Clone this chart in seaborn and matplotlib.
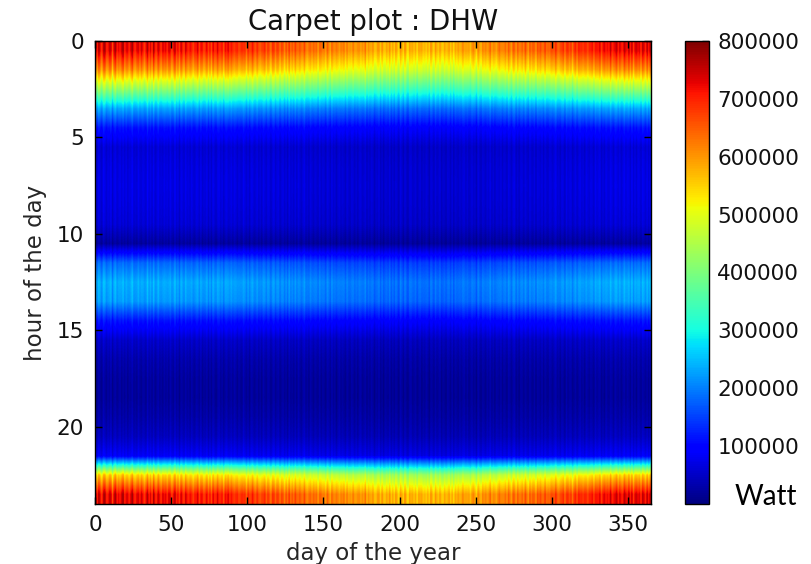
import numpy as np
import pandas as pd
import matplotlib
matplotlib.use("Agg")
import matplotlib.pyplot as plt
import seaborn as sns

# ---- data ----
hours = list(range(24))
# hot-water demand per hour of the day (W), winter level
hourly_profile = [720000, 600000, 420000, 230000, 110000, 58000, 65000, 68000,
                  65000, 58000, 20000, 180000, 235000, 220000, 112000, 50000,
                  30000, 20000, 18000, 27000, 42000, 82000, 540000, 720000]

# relative level of each day of the year
daily_factor = [
    1.04, 0.97, 1.06, 1.01, 0.95, 1.03, 1.07, 0.99, 0.96, 1.05, 1.02, 0.94, 1.03, 1.06, 0.98,
    1.01, 0.96, 1.05, 1.08, 0.97, 1.00, 1.04, 0.95, 1.02, 1.06, 0.99, 0.96, 1.03, 1.01, 0.97,
    1.05, 0.98, 0.94, 1.02, 1.04, 0.97, 1.01, 0.95, 1.06, 0.99, 0.96, 1.03, 1.00, 0.94, 1.04,
    0.98, 1.02, 0.95, 1.05, 0.99, 0.93, 1.01, 1.04, 0.97, 1.00, 0.96, 1.03, 0.98, 0.94, 1.02,
    0.99, 0.95, 1.02, 0.96, 0.93, 1.00, 0.97, 1.03, 0.94, 0.98, 1.01, 0.92, 0.97, 1.00, 0.95,
    0.99, 0.93, 1.01, 0.96, 0.98, 1.02, 0.94, 0.97, 0.99, 0.92, 1.00, 0.96, 1.03, 0.95, 0.98,
    0.97, 0.92, 0.96, 0.99, 0.91, 0.95, 0.98, 0.93, 0.96, 0.90, 0.97, 0.95, 0.92, 0.99, 0.94,
    0.91, 0.96, 0.93, 0.89, 0.95, 0.92, 0.97, 0.90, 0.94, 0.91, 0.88, 0.95, 0.93, 0.90, 0.94,
    0.92, 0.88, 0.93, 0.90, 0.86, 0.92, 0.89, 0.94, 0.87, 0.91, 0.88, 0.93, 0.90, 0.86, 0.92,
    0.89, 0.86, 0.91, 0.87, 0.84, 0.90, 0.88, 0.85, 0.91, 0.86, 0.89, 0.83, 0.88, 0.90, 0.85,
    0.87, 0.84, 0.89, 0.85, 0.82, 0.88, 0.86, 0.83, 0.89, 0.85, 0.81, 0.87, 0.84, 0.88, 0.83,
    0.86, 0.82, 0.85, 0.80, 0.87, 0.83, 0.81, 0.86, 0.84, 0.79, 0.85, 0.82, 0.87, 0.80, 0.83,
    0.82, 0.79, 0.84, 0.80, 0.77, 0.83, 0.81, 0.78, 0.84, 0.80, 0.76, 0.82, 0.79, 0.83, 0.78,
    0.81, 0.77, 0.83, 0.79, 0.76, 0.82, 0.80, 0.78, 0.84, 0.79, 0.75, 0.81, 0.78, 0.82, 0.77,
    0.80, 0.76, 0.82, 0.79, 0.83, 0.77, 0.80, 0.75, 0.81, 0.78, 0.84, 0.79, 0.76, 0.82, 0.80,
    0.77, 0.81, 0.79, 0.75, 0.82, 0.80, 0.78, 0.83, 0.77, 0.80, 0.76, 0.81, 0.79, 0.84, 0.78,
    0.81, 0.85, 0.79, 0.83, 0.80, 0.84, 0.78, 0.82, 0.86, 0.81, 0.79, 0.84, 0.82, 0.80, 0.85,
    0.83, 0.87, 0.81, 0.85, 0.88, 0.82, 0.84, 0.86, 0.80, 0.85, 0.89, 0.83, 0.86, 0.84, 0.88,
    0.85, 0.89, 0.86, 0.83, 0.90, 0.87, 0.84, 0.91, 0.88, 0.85, 0.89, 0.86, 0.92, 0.87, 0.84,
    0.90, 0.87, 0.92, 0.88, 0.85, 0.91, 0.89, 0.93, 0.86, 0.90, 0.94, 0.88, 0.91, 0.87, 0.92,
    0.93, 0.89, 0.95, 0.91, 0.88, 0.94, 0.92, 0.96, 0.90, 0.93, 0.97, 0.91, 0.94, 0.89, 0.95,
    0.96, 0.92, 0.98, 0.94, 0.97, 0.93, 0.99, 0.95, 0.92, 0.98, 0.96, 1.00, 0.94, 0.97, 0.99,
    0.97, 1.01, 0.95, 0.99, 1.03, 0.96, 1.00, 0.98, 1.04, 0.95, 1.01, 0.99, 1.05, 0.97, 1.02,
    1.00, 0.96, 1.04, 1.02, 0.97, 1.06, 0.99, 1.03, 0.95, 1.01, 1.05, 0.98, 1.02, 0.96, 1.04,
    1.01, 0.97, 1.05, 0.99, 1.03,
]

# extra base-load of each day (kW), gives the vertical streaks in the low hours
daily_offset_kw = [
    8, -5, 12, 0, -9, 15, 3, -7, 10, -3, 18, -10, 5, 9, -6,
    2, 14, -8, 6, -4, 11, -12, 7, 1, 16, -6, 4, -9, 13, 0,
    -7, 10, 5, -11, 17, -2, 8, -5, 12, -9, 3, 15, -4, 6, -8,
    11, -3, 9, -10, 14, 2, -6, 18, -1, 7, -12, 10, 4, -5, 13,
    -2, 8, -9, 15, 1, -7, 11, 5, -4, 16, -10, 6, 0, 12, -8,
    9, -5, 14, 3, -11, 7, 17, -3, 10, -8, 5, 13, -6, 2, 11,
    -4, 15, 6, -9, 12, 0, -7, 18, 4, -2, 9, -12, 14, 7, -5,
    3, 12, -6, 10, -10, 16, 1, -4, 13, 8, -8, 5, 17, -3, 6,
    11, -7, 4, 14, -2, 9, -11, 15, 0, 7, -5, 12, -9, 18, 2,
    -6, 10, 16, -3, 8, -10, 13, 5, -7, 11, 1, -4, 15, -8, 9,
    4, -9, 12, 7, -5, 17, -1, 10, -12, 6, 14, -3, 8, 0, -7,
    13, 2, -8, 15, 5, -6, 11, -10, 9, 16, -4, 3, 12, -7, 7,
    -3, 14, 6, -9, 10, 1, 18, -5, 8, -11, 12, 4, -2, 15, -6,
    9, -4, 11, 3, -10, 16, 6, -7, 13, 0, -8, 10, 17, -3, 5,
    12, -6, 2, 14, -9, 8, -1, 15, 4, -12, 11, 7, -5, 13, -2,
    6, 16, -7, 9, 1, -10, 13, 5, -4, 17, -8, 10, 3, -6, 12,
    -1, 8, 15, -5, 11, -9, 4, 14, -3, 7, -11, 18, 2, -7, 10,
    5, -8, 13, 0, 16, -4, 9, -10, 12, 6, -2, 15, -6, 11, 3,
    -9, 14, 7, -3, 10, 17, -7, 4, -12, 13, 8, -5, 11, 1, -4,
    15, 2, -6, 12, -10, 9, 5, -3, 16, -8, 11, 0, -7, 14, 6,
    -5, 10, 18, -2, 7, -9, 13, 3, -11, 15, -4, 8, 12, -6, 1,
    11, -7, 4, 16, -3, 9, -12, 14, 6, -5, 10, 2, -8, 17, -1,
    8, 13, -6, 5, -10, 15, 0, -4, 12, 7, -9, 16, 3, -2, 10,
    -8, 6, 14, -5, 11, 2, -7, 17, -3, 9, -11, 13, 4, -6, 12,
    5, -3, 10, -7, 14,
]
days = list(range(len(daily_factor)))

x_ticks = [0, 50, 100, 150, 200, 250, 300, 350]
y_ticks = [0, 5, 10, 15, 20]
cbar_ticks = [100000, 200000, 300000, 400000, 500000, 600000, 700000, 800000]
vmin, vmax = 0, 800000

values = (np.outer(hourly_profile, daily_factor)
          + np.asarray(daily_offset_kw, dtype=float)[None, :] * 1000.0)
carpet = pd.DataFrame(values, index=hours, columns=days)
n_hours, n_days = carpet.shape

# ---- style ----
sns.set_style("white")
plt.rcParams["font.family"] = ["DejaVu Sans"]
plt.rcParams["text.color"] = "#111111"

fig = plt.figure(figsize=(8.12, 5.64), dpi=100)
W, H = 812, 564
ax = fig.add_axes([95 / W, 60 / H, 556 / W, 463 / H])
cax = fig.add_axes([685 / W, 60 / H, 24 / W, 463 / H])

sns.heatmap(carpet, ax=ax, cbar_ax=cax, cmap="jet", vmin=vmin, vmax=vmax,
            xticklabels=False, yticklabels=False)
mesh = ax.collections[0]

# smooth (bilinear) rendering like the classic carpet plot
ax.imshow(carpet.values, cmap="jet", vmin=vmin, vmax=vmax,
          extent=(0, n_days, n_hours, 0), aspect="auto",
          interpolation="bilinear", interpolation_stage="data", zorder=2)
ax.set_xlim(0, n_days)
ax.set_ylim(n_hours, 0)
ax.set_axisbelow(False)

ax.set_xticks(x_ticks)
ax.set_xticklabels([str(t) for t in x_ticks])
ax.set_yticks(y_ticks)
ax.set_yticklabels([str(t) for t in y_ticks])
ax.tick_params(axis="both", direction="in", length=5, width=1, color="black",
               top=True, right=True, bottom=True, left=True,
               labelsize=15.5, labelcolor="#111111", pad=8)
for s in ax.spines.values():
    s.set_visible(True)
    s.set_color("black")
    s.set_linewidth(1)

ax.set_xlabel("day of the year", fontsize=16.5, labelpad=5)
ax.set_ylabel("hour of the day", fontsize=16.5, labelpad=7)
ax.set_title("Carpet plot : DHW", fontsize=19.8, pad=8)

cbar = mesh.colorbar
cbar.set_ticks(cbar_ticks)
cbar.set_ticklabels([str(t) for t in cbar_ticks])
cbar.outline.set_linewidth(1)
cbar.outline.set_edgecolor("black")
cax.tick_params(direction="in", length=5, width=1, color="black",
                right=True, left=False, labelsize=15.5, labelcolor="#111111", pad=6)

fig.text(766 / W, 59 / H, "Watt", fontsize=20, family=["Lato", "DejaVu Sans"],
         ha="center", va="baseline", color="black")

fig.savefig("out.png", dpi=100)
